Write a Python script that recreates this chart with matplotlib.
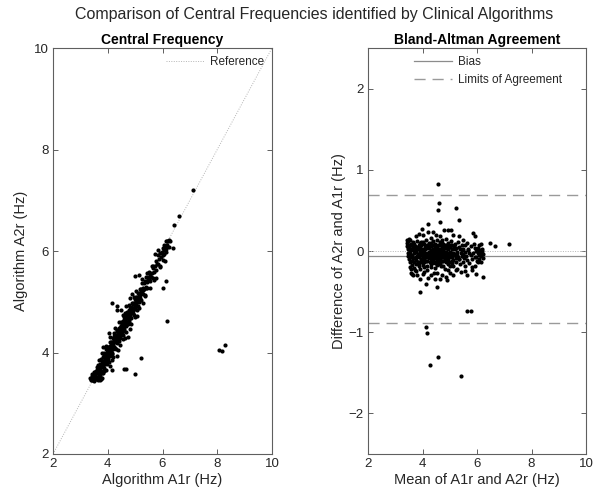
import numpy as np
import matplotlib
matplotlib.use("Agg")
import matplotlib.pyplot as plt

plt.rcParams['font.family'] = ['Liberation Sans', 'DejaVu Sans']

# ---- data: central frequency pairs (Hz) ----
A1r = [
    # core band
    3.35,3.38,3.40,3.42,3.44,3.45,3.47,3.48,3.50,3.50,3.52,3.53,3.55,3.56,3.57,3.58,3.60,3.60,3.62,3.63,
    3.65,3.70,3.72,
    3.64,3.66,3.67,3.68,3.70,3.71,3.72,3.73,3.75,3.75,3.77,3.78,3.79,3.80,3.81,3.82,3.83,3.84,3.85,3.86,
    3.87,3.88,3.89,3.90,3.90,
    3.91,3.92,3.93,3.94,3.95,3.96,3.97,3.98,3.99,4.00,4.00,4.01,4.02,4.03,4.04,4.05,4.06,4.07,4.08,4.09,
    4.10,4.10,4.11,4.12,4.13,4.14,4.15,4.16,4.17,4.18,4.19,4.20,
    4.21,4.22,4.23,4.24,4.25,4.26,4.27,4.28,4.29,4.30,4.30,4.31,4.32,4.33,4.34,4.35,4.36,4.37,4.38,4.39,
    4.40,4.40,4.41,4.42,4.43,4.44,4.45,4.46,4.47,4.48,4.49,4.50,
    4.50,4.51,4.52,4.53,4.54,4.55,4.56,4.57,4.58,4.59,4.60,4.60,4.61,4.62,4.63,4.64,4.65,4.66,4.67,4.68,
    4.69,4.70,4.71,4.72,4.73,4.74,4.75,4.76,4.77,4.78,4.79,4.80,
    4.81,4.82,4.83,4.84,4.85,4.86,4.87,4.88,4.89,4.90,4.91,4.92,4.93,4.94,4.95,4.96,4.97,4.98,4.99,5.00,
    5.01,5.02,5.03,5.04,5.05,5.06,5.08,5.10,
    5.11,5.12,5.14,5.15,5.16,5.18,5.19,5.20,5.22,5.23,5.25,5.26,5.28,5.30,5.31,5.33,5.35,5.37,5.39,5.40,
    5.42,5.44,5.46,5.48,
    5.50,5.52,5.54,5.56,5.58,5.60,5.62,5.65,5.67,5.70,5.72,5.75,5.78,5.80,5.83,5.85,5.88,5.90,5.92,5.95,
    5.98,
    6.00,6.02,6.04,6.05,6.07,6.08,6.10,6.11,6.12,6.14,6.16,6.18,6.20,6.22,6.25,6.28,
    3.46,3.54,3.61,3.69,3.74,3.82,3.88,3.95,4.03,4.09,4.13,4.18,4.24,4.29,4.33,4.38,4.43,4.47,4.52,4.57,
    4.62,4.66,4.71,4.76,4.83,4.88,4.93,4.99,5.04,5.13,5.21,5.29,5.38,5.47,5.57,5.66,
    # above the band
    4.07,4.26,4.82,4.90,5.73,5.84,3.92,4.55,4.40,3.68,5.02,4.66,3.78,5.26,
    3.43,4.22,5.43,4.78,
    # below the band
    4.63,4.81,4.08,3.83,5.28,5.77,5.92,6.02,6.11,4.14,4.45,5.01,5.53,3.80,5.07,5.36,
    3.76,3.95,4.18,4.37,4.54,4.85,5.14,5.68,6.09,5.08,
    # outliers
    4.14,4.32,4.33,4.98,4.47,5.15,4.05,3.84,7.12,6.42,6.62,6.38,4.16,4.74,4.35,6.01,6.14,4.61,4.68,5.21,
    4.98,6.17,8.05,8.18,8.28,
]
A2r = [
    3.49,3.48,3.46,3.54,3.46,3.53,3.45,3.61,3.54,3.44,3.61,3.53,3.51,3.63,3.47,3.61,3.52,3.71,3.48,3.64,
    3.45,3.48,3.45,
    3.59,3.75,3.55,3.71,3.53,3.77,3.69,3.64,3.87,3.74,3.63,3.83,3.72,3.59,3.83,3.71,3.91,3.80,3.69,3.96,
    3.81,3.63,3.89,3.77,3.94,
    3.98,3.84,3.91,3.79,4.06,3.91,3.78,4.01,3.89,4.01,3.87,3.97,4.11,3.81,3.97,4.10,4.05,3.96,4.21,4.03,
    3.93,4.12,4.02,4.09,4.21,4.00,4.10,4.20,3.97,4.10,4.29,4.18,
    4.15,4.26,4.11,4.23,4.35,4.08,4.23,4.34,4.20,4.06,4.31,4.24,4.44,4.19,4.32,4.42,4.26,4.32,4.41,4.23,
    4.32,4.49,4.38,4.22,4.48,4.33,4.45,4.40,4.61,4.35,4.45,4.52,
    4.41,4.56,4.37,4.50,4.62,4.48,4.35,4.58,4.47,4.70,4.55,4.43,4.64,4.54,4.62,4.77,4.52,4.60,4.73,4.41,
    4.67,4.60,4.80,4.68,4.57,4.76,4.67,4.64,4.84,4.75,4.60,4.84,
    4.76,4.90,4.71,4.82,4.89,4.68,4.80,4.98,4.79,4.87,4.97,4.78,4.87,4.96,4.73,4.87,5.09,4.94,4.88,5.05,
    4.85,5.01,5.10,4.96,4.92,5.09,5.02,4.91,
    5.17,5.04,5.12,5.00,5.25,5.13,5.08,5.22,5.03,5.19,5.36,5.17,5.27,5.16,5.36,5.26,5.12,5.40,5.29,5.48,
    5.39,5.28,5.47,5.42,
    5.46,5.59,5.41,5.55,5.49,5.70,5.56,5.47,5.70,5.59,5.70,5.81,5.63,5.75,5.92,5.75,5.85,5.70,5.96,5.88,
    5.98,
    5.92,6.06,6.01,6.12,5.95,6.09,6.05,6.20,6.10,6.04,6.19,6.12,6.20,6.08,6.21,6.19,
    3.51,3.56,3.66,3.60,3.76,3.76,3.99,3.82,4.03,4.05,4.19,4.06,4.32,4.27,4.25,4.38,4.28,4.52,4.52,4.52,
    4.69,4.76,4.57,4.76,4.75,4.87,4.84,5.07,5.02,5.01,5.25,5.24,5.28,5.49,5.49,5.67,
    4.30,4.49,5.08,5.16,5.95,6.02,4.12,4.73,4.60,3.86,5.22,4.92,3.99,5.44,
    3.58,4.38,5.57,4.93,
    4.29,4.47,3.74,3.60,4.98,5.47,5.69,5.83,5.98,3.86,4.15,4.69,5.27,3.50,4.83,5.14,
    3.48,3.65,3.92,4.04,4.27,4.56,4.87,5.43,5.81,4.72,
    4.97,4.91,4.83,5.51,4.83,5.53,4.38,4.11,7.21,6.52,6.68,6.06,3.66,4.30,3.94,5.27,5.40,3.67,3.67,3.90,
    3.58,4.63,4.05,4.02,4.15,
]

# Bland-Altman summary lines (Hz)
bias = -0.058
loa_upper = 0.69
loa_lower = -0.883

x_ticks = [2, 4, 6, 8, 10]
ba_y_ticks = [-2, -1, 0, 1, 2]

a1 = np.array(A1r)
a2 = np.array(A2r)
n = min(len(a1), len(a2))
a1, a2 = a1[:n], a2[:n]
mean_vals = (a1 + a2) / 2
diff_vals = a2 - a1

axis_col = '#5f5f5f'
text_col = '#262626'

fig = plt.figure(figsize=(5.93, 4.95), dpi=100)
W, H = 593, 495
ax1 = fig.add_axes([53 / W, 1 - 454 / H, 219 / W, 406 / H])
ax2 = fig.add_axes([368 / W, 1 - 454 / H, 218 / W, 406 / H])

for ax in (ax1, ax2):
    for s in ax.spines.values():
        s.set_color(axis_col)
        s.set_linewidth(0.8)
    ax.tick_params(direction='in', length=3.5, width=0.7, color=axis_col,
                   labelcolor=text_col, labelsize=9.5, top=True, right=True, pad=3)
    ax.set_xlim(2, 10)
    ax.set_xticks(x_ticks)

# ---- left: central frequency scatter ----
ax1.plot([2, 10], [2, 10], linestyle=(0, (1, 1.5)), color='#b5b5b5', lw=0.7, label='Reference')
ax1.plot(a1, a2, 'o', color='black', ms=3.0, mew=0, linestyle='none')
ax1.set_ylim(2, 10)
ax1.set_yticks(x_ticks)
ax1.set_xlabel('Algorithm A1r (Hz)', fontsize=10.5, color=text_col, labelpad=2)
ax1.set_ylabel('Algorithm A2r (Hz)', fontsize=10.5, color=text_col, labelpad=4)
ax1.set_title('Central Frequency', fontsize=10, fontweight='bold', color='black', pad=3)
ax1.legend(loc='upper right', frameon=False, fontsize=8.5, handlelength=3.2,
           handletextpad=0.5, borderaxespad=0.3, labelcolor=text_col)

# ---- right: Bland-Altman ----
ax2.axhline(0, linestyle=(0, (1, 1.5)), color='#b5b5b5', lw=0.7)
ax2.axhline(bias, color='#8c8c8c', lw=0.9, label='Bias')
ax2.axhline(loa_upper, color='#9a9a9a', lw=1.0, linestyle=(0, (8, 5)), label='Limits of Agreement')
ax2.axhline(loa_lower, color='#9a9a9a', lw=1.0, linestyle=(0, (8, 5)))
ax2.plot(mean_vals, diff_vals, 'o', color='black', ms=3.0, mew=0, linestyle='none')
ax2.set_ylim(-2.5, 2.5)
ax2.set_yticks(ba_y_ticks)
ax2.set_xlabel('Mean of A1r and A2r (Hz)', fontsize=10.5, color=text_col, labelpad=2)
ax2.set_ylabel('Difference of A2r and A1r (Hz)', fontsize=10.5, color=text_col, labelpad=2)
ax2.set_title('Bland-Altman Agreement', fontsize=10, fontweight='bold', color='black', pad=3)
ax2.legend(loc='upper center', bbox_to_anchor=(0.55, 1.0), frameon=False, fontsize=8.5,
           handlelength=3.2, handletextpad=0.5, borderaxespad=0.3, labelcolor=text_col)

fig.suptitle('Comparison of Central Frequencies identified by Clinical Algorithms',
             x=0.53, y=0.985, fontsize=11.5, color=text_col)

fig.savefig('out.png', dpi=100)
